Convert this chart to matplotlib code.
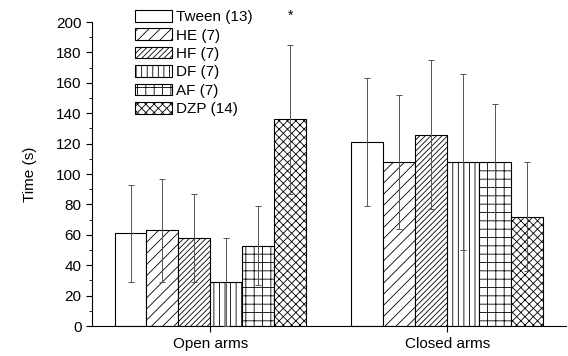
import matplotlib
matplotlib.use("Agg")
import matplotlib.pyplot as plt
from matplotlib.ticker import MultipleLocator
import numpy as np

plt.rcParams['font.family'] = ['Liberation Sans', 'DejaVu Sans']
plt.rcParams['hatch.linewidth'] = 0.6

# data
groups = ['Open arms', 'Closed arms']
labels = ['Tween (13)', 'HE (7)', 'HF (7)', 'DF (7)', 'AF (7)', 'DZP (14)']
open_vals = [61, 63, 58, 29, 53, 136]
open_err = [32, 34, 29, 29, 26, 49]
closed_vals = [121, 108, 126, 108, 108, 72]
closed_err = [42, 44, 49, 58, 38, 36]
hatches = ['', '///', '//////', '|||', '++', 'xxxx']

fig = plt.figure(figsize=(5.68, 3.56), dpi=100)
ax = fig.add_axes([0.162, 0.084, 0.834, 0.854])

x = np.arange(len(groups))
w = 0.135
for i, lab in enumerate(labels):
    pos = x + (i - 2.5) * w
    vals = [open_vals[i], closed_vals[i]]
    errs = [open_err[i], closed_err[i]]
    ax.bar(pos, vals, w, color='white', edgecolor='black', linewidth=0.8,
           hatch=hatches[i], label=lab, zorder=2)
    ax.errorbar(pos, vals, yerr=errs, fmt='none', ecolor='#555555',
                elinewidth=0.7, capsize=2.5, capthick=0.7, zorder=3)

# significance mark on DZP open arms
ax.text(x[0] + 2.5 * w, open_vals[5] + open_err[5] + 19, '*',
        ha='center', va='center', fontsize=10, clip_on=False)

ax.set_xlim(-0.5, 1.5)
ax.set_ylim(0, 200)
ax.set_xticks(x)
ax.set_xticklabels(groups, fontsize=11)
ax.yaxis.set_major_locator(MultipleLocator(20))
ax.yaxis.set_minor_locator(MultipleLocator(10))
ax.tick_params(axis='y', labelsize=11, direction='out', length=4)
ax.tick_params(axis='y', which='minor', length=2)
ax.tick_params(axis='x', direction='out', length=4)
ax.set_ylabel('Time (s)', fontsize=11, labelpad=14)
ax.spines['top'].set_visible(False)
ax.spines['right'].set_visible(False)

ax.legend(loc='upper left', bbox_to_anchor=(0.078, 1.06), frameon=False,
          fontsize=11, handlelength=2.4, handleheight=0.8,
          labelspacing=0.28, handletextpad=0.3, borderaxespad=0)

fig.savefig('out.png', dpi=100)
